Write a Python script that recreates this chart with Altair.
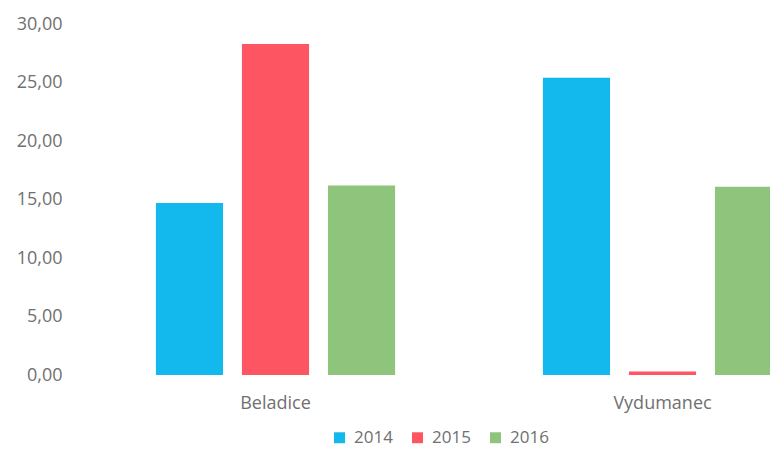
import altair as alt
import pandas as pd

categories = ["Beladice", "Vydumanec"]
years = ["2014", "2015", "2016"]
values_2014 = [14.7, 25.4]
values_2015 = [28.3, 0.3]
values_2016 = [16.2, 16.1]
colors = ["#13b9ec", "#fd5562", "#8fc47d"]
y_ticks = [0, 5, 10, 15, 20, 25, 30]

rows = []
for i, c in enumerate(categories):
    rows.append({"place": c, "year": "2014", "value": values_2014[i]})
    rows.append({"place": c, "year": "2015", "value": values_2015[i]})
    rows.append({"place": c, "year": "2016", "value": values_2016[i]})
df = pd.DataFrame(rows)

FONT = "Open Sans"
GRAY = "#707070"

chart = alt.Chart(df).mark_bar(clip=True).encode(
    x=alt.X("place:N", sort=categories,
            scale=alt.Scale(domain=categories, range=[0, 774],
                            paddingInner=0.382, paddingOuter=0.191),
            axis=alt.Axis(title=None, labelAngle=0, domain=False, ticks=False,
                          labelFont=FONT, labelFontSize=18, labelColor=GRAY,
                          labelPadding=19)),
    xOffset=alt.XOffset("year:N", sort=years,
                        scale=alt.Scale(paddingInner=0.22, paddingOuter=0)),
    y=alt.Y("value:Q",
            scale=alt.Scale(domain=[0, 30], nice=False),
            axis=alt.Axis(title=None, values=y_ticks, grid=False, domain=False, ticks=False,
                          labelFont=FONT, labelFontSize=18, labelColor=GRAY,
                          labelPadding=20,
                          labelExpr="replace(format(datum.value, '.2f'), '.', ',')")),
    color=alt.Color("year:N", sort=years,
                    scale=alt.Scale(domain=years, range=colors),
                    legend=alt.Legend(title=None, orient="none", direction="horizontal",
                                      legendX=249, legendY=405,
                                      symbolType="square", symbolSize=120,
                                      symbolStrokeWidth=0,
                                      labelFont=FONT, labelFontSize=17, labelColor=GRAY,
                                      columnPadding=16, labelOffset=6)),
).properties(
    width=688,
    height=351,
    autosize=alt.AutoSizeParams(type="none"),
    padding={"left": 74, "top": 16, "right": 0, "bottom": 75},
).configure_view(stroke=None)

chart.save("out.html", embed_options={"renderer": "svg", "actions": False})
